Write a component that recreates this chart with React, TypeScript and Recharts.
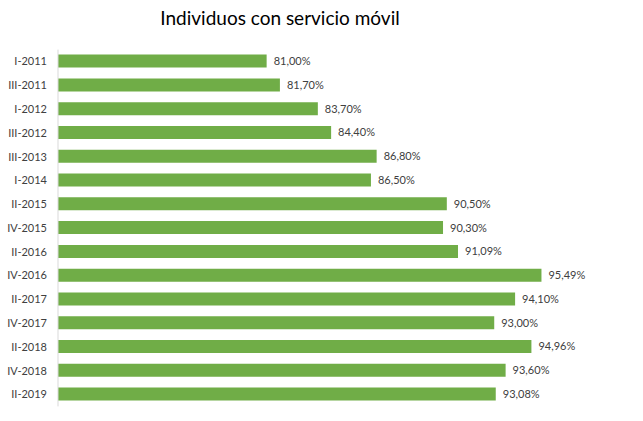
import { Bar, BarChart, LabelList, XAxis, YAxis } from 'recharts';

const periods = [
  'I-2011', 'III-2011', 'I-2012', 'III-2012', 'III-2013', 'I-2014', 'II-2015', 'IV-2015',
  'II-2016', 'IV-2016', 'II-2017', 'IV-2017', 'II-2018', 'IV-2018', 'II-2019',
];
const shares = [81.0, 81.7, 83.7, 84.4, 86.8, 86.5, 90.5, 90.3, 91.09, 95.49, 94.1, 93.0, 94.96, 93.6, 93.08];

const data = periods.map((period, i) => ({ period, value: shares[i] }));

const font = 'Lato, "Open Sans", sans-serif';
const fmt = (v: any) => `${Number(v).toFixed(2).replace('.', ',')}%`;

export default function App() {
  return (
    <div style={{ position: 'absolute', left: 0, top: 0, width: 643, height: 421, background: '#fff', fontFamily: font }}>
      <div
        style={{
          position: 'absolute',
          top: 6,
          left: 0,
          width: 560,
          textAlign: 'center',
          fontSize: 19,
          color: '#000',
        }}
      >
        Individuos con servicio móvil
      </div>
      <BarChart
        width={643}
        height={421}
        data={data}
        layout="vertical"
        margin={{ top: 49.6, right: 16, bottom: 14.6, left: 0 }}
        barCategoryGap={0}
      >
        <XAxis type="number" domain={[70, 100]} hide allowDataOverflow />
        <YAxis
          type="category"
          dataKey="period"
          width={58}
          axisLine={{ stroke: '#d9d9d9' }}
          tickLine={false}
          tickSize={0}
          tickMargin={11}
          interval={0}
          tick={{ fontSize: 11, fill: '#404040', fontFamily: font }}
        />
        <Bar dataKey="value" fill="#70ad47" barSize={13} isAnimationActive={false}>
          <LabelList
            dataKey="value"
            position="right"
            offset={7}
            formatter={fmt}
            style={{ fontSize: 11, fill: '#404040', fontFamily: font }}
          />
        </Bar>
      </BarChart>
    </div>
  );
}
